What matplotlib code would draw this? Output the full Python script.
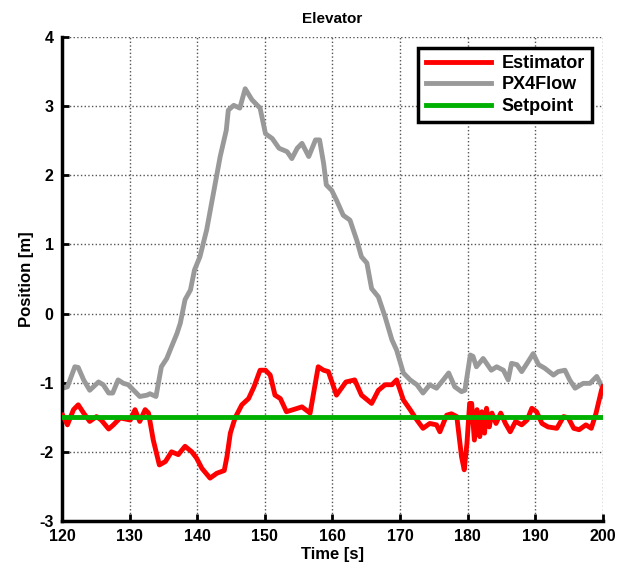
import matplotlib
matplotlib.use("Agg")
import matplotlib.pyplot as plt

plt.rcParams['font.family'] = ['Liberation Sans', 'DejaVu Sans']
plt.rcParams['font.weight'] = 'bold'
plt.rcParams['axes.unicode_minus'] = False

# PX4Flow (gray) trace
flow_t = [120.1, 120.8, 121.9, 122.4, 123.2, 124.1, 125.4, 126.1, 126.9, 127.5,
          128.3, 129.1, 129.8, 130.5, 131.5, 132.6, 133.0, 133.9, 134.7, 135.5,
          136.2, 137.0, 137.5, 138.2, 139.0, 139.6, 140.4, 141.4, 142.4, 143.4,
          144.3, 144.6, 145.4, 146.3, 147.1, 148.1, 149.3, 150.1, 151.1, 152.1,
          153.3, 154.0, 154.8, 155.5, 156.5, 157.5, 158.1, 158.7, 159.1, 159.9,
          160.6, 161.6, 162.6, 163.6, 164.3, 165.1, 165.8, 166.8, 167.8, 168.8,
          169.5, 170.5, 171.5, 172.5, 173.4, 174.4, 175.4, 176.4, 177.2, 178.1,
          179.1, 179.6, 180.4, 180.8, 181.3, 182.3, 183.5, 184.3, 185.3, 186.0,
          186.5, 187.3, 188.0, 188.8, 189.7, 190.5, 191.4, 192.7, 193.4, 194.4,
          195.1, 195.9, 197.1, 198.1, 199.1, 199.9, 200.0]
flow_y = [-1.08, -1.06, -0.77, -0.78, -0.96, -1.11, -0.99, -1.03, -1.15, -1.15,
          -0.96, -1.01, -1.03, -1.10, -1.20, -1.18, -1.16, -1.20, -0.77, -0.65,
          -0.48, -0.29, -0.14, 0.20, 0.34, 0.63, 0.82, 1.21, 1.74, 2.27,
          2.65, 2.94, 3.01, 2.97, 3.25, 3.09, 2.97, 2.60, 2.53, 2.39,
          2.34, 2.24, 2.39, 2.46, 2.27, 2.51, 2.51, 2.17, 1.86, 1.78,
          1.64, 1.42, 1.35, 1.06, 0.82, 0.73, 0.36, 0.24, -0.05, -0.38,
          -0.53, -0.86, -0.96, -1.03, -1.15, -1.03, -1.08, -0.96, -0.86, -1.06,
          -1.13, -1.11, -0.60, -0.62, -0.77, -0.65, -0.82, -0.77, -0.82, -0.96,
          -0.72, -0.74, -0.84, -0.72, -0.58, -0.74, -0.79, -0.89, -0.84, -0.82,
          -0.96, -1.08, -1.01, -1.01, -0.91, -1.06, -1.20]

# Estimator (red) trace
est_t = [120.1, 120.8, 121.7, 122.4, 123.2, 124.1, 125.1, 125.8, 126.9, 127.6,
         128.6, 130.1, 130.8, 131.5, 132.3, 132.8, 133.5, 134.4, 135.3, 136.2,
         137.2, 138.2, 139.2, 139.9, 140.7, 141.9, 142.9, 144.0, 144.4, 144.9,
         145.6, 146.6, 147.6, 148.4, 149.3, 150.1, 150.8, 151.5, 152.3, 153.2,
         154.2, 155.5, 156.7, 157.9, 158.7, 159.4, 160.6, 162.0, 163.3, 164.3,
         165.8, 166.8, 167.8, 168.8, 169.5, 170.5, 171.5, 172.5, 173.4, 174.4,
         175.4, 175.9, 176.9, 177.6, 178.4, 179.1, 179.5, 179.9, 180.3, 180.6,
         181.0, 181.4, 181.8, 182.1, 182.5, 182.8, 183.2, 183.6, 184.2, 184.9,
         185.6, 186.3, 187.1, 188.0, 188.8, 189.5, 190.2, 191.0, 191.9, 193.2,
         194.2, 194.9, 195.7, 196.5, 197.5, 198.3, 199.0, 199.8, 200.0]
est_y = [-1.47, -1.61, -1.39, -1.32, -1.44, -1.56, -1.49, -1.54, -1.67, -1.61,
         -1.51, -1.54, -1.39, -1.56, -1.39, -1.44, -1.83, -2.19, -2.14, -2.00,
         -2.04, -1.92, -2.00, -2.09, -2.24, -2.38, -2.31, -2.27, -2.07, -1.73,
         -1.51, -1.32, -1.23, -1.06, -0.82, -0.82, -0.89, -1.18, -1.23, -1.42,
         -1.39, -1.35, -1.44, -0.77, -0.82, -0.84, -1.18, -0.99, -0.96, -1.18,
         -1.30, -1.11, -1.03, -1.03, -0.96, -1.25, -1.39, -1.54, -1.66, -1.59,
         -1.61, -1.71, -1.47, -1.45, -1.49, -2.07, -2.26, -1.88, -1.30, -1.30,
         -1.83, -1.39, -1.78, -1.42, -1.73, -1.37, -1.64, -1.44, -1.59, -1.44,
         -1.59, -1.71, -1.56, -1.61, -1.54, -1.37, -1.42, -1.59, -1.64, -1.66,
         -1.49, -1.51, -1.66, -1.68, -1.61, -1.66, -1.44, -1.11, -1.06]

setpoint_t = [120, 200]
setpoint_y = [-1.5, -1.5]

x_ticks = [120, 130, 140, 150, 160, 170, 180, 190, 200]
y_ticks = [-3, -2, -1, 0, 1, 2, 3, 4]

fig = plt.figure(figsize=(6.17, 5.76), dpi=100)
ax = fig.add_axes([0.1005, 0.0955, 0.8765, 0.8405])

ax.plot(est_t, est_y, color='#ff0000', lw=3.5, label='Estimator', zorder=3,
        solid_joinstyle='round')
ax.plot(flow_t, flow_y, color='#999999', lw=3.5, label='PX4Flow', zorder=2,
        solid_joinstyle='round')
ax.plot(setpoint_t, setpoint_y, color='#00b000', lw=3.5, label='Setpoint', zorder=4)

ax.set_xlim(120, 200)
ax.set_ylim(-3, 4)
ax.set_xticks(x_ticks)
ax.set_yticks(y_ticks)
ax.tick_params(direction='in', length=5, width=2, labelsize=11.5, pad=6)
for lab in ax.get_xticklabels() + ax.get_yticklabels():
    lab.set_fontweight('bold')

ax.grid(True, linestyle=':', color='#555555', linewidth=1.0)
ax.spines['top'].set_visible(False)
ax.spines['right'].set_visible(False)
ax.spines['left'].set_linewidth(2.5)
ax.spines['bottom'].set_linewidth(2.5)

ax.set_title('Elevator', fontsize=11, fontweight='bold', pad=10)
ax.set_xlabel('Time [s]', fontsize=12, fontweight='bold', labelpad=2)
ax.set_ylabel('Position [m]', fontsize=12, fontweight='bold', labelpad=4)

leg = ax.legend(loc='upper right', fancybox=False, framealpha=1,
                prop={'weight': 'bold', 'size': 13}, handlelength=3.6,
                borderaxespad=0.6, labelspacing=0.25, handletextpad=0.6)
leg.get_frame().set_edgecolor('black')
leg.get_frame().set_linewidth(2.5)

fig.savefig('out.png', dpi=100)
